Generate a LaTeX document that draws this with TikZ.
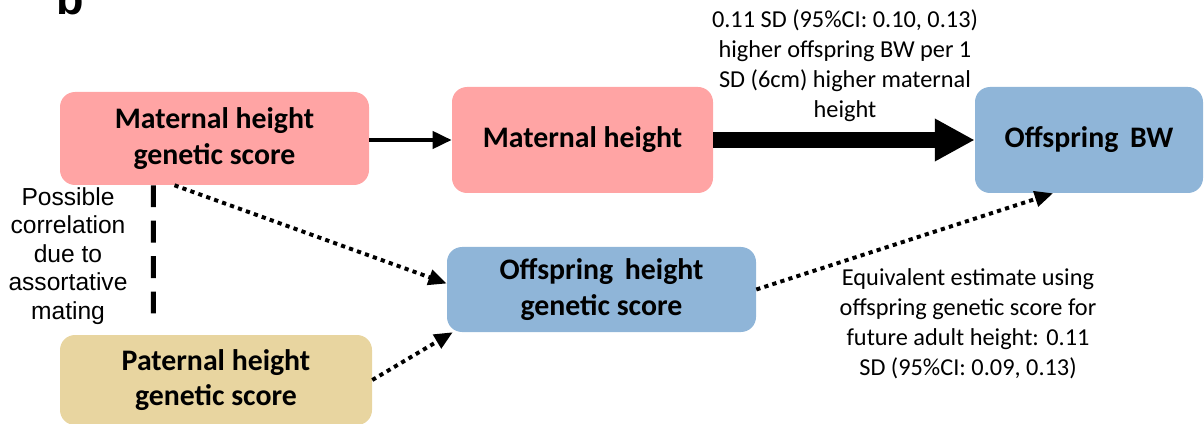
\documentclass[tikz,border=0pt]{standalone}
\usepackage{fontspec}
\setmainfont{Carlito}
\newfontfamily\arialfont{Liberation Sans}
\usetikzlibrary{arrows.meta}
\definecolor{matpink}{RGB}{255,164,164}
\definecolor{offblue}{RGB}{143,181,216}
\definecolor{pattan}{RGB}{232,213,160}
\tikzset{
    gsbox/.style={rounded corners=0.375cm, align=center, inner sep=0pt,
        font=\bfseries\fontsize{21.2}{25}\selectfont},
    note/.style={align=center, font=\fontsize{17.3}{21.3}\selectfont},
    dotarrow/.style={line width=2.8pt, dash pattern=on 3pt off 3pt,
        -{Triangle[length=13pt, width=11pt]}},
}
\begin{document}
\begin{tikzpicture}
        \useasboundingbox (0, 0) rectangle (30.1, -10.6);
        \node[anchor=base, font=\arialfont\bfseries\fontsize{32}{38}\selectfont] (lbl) at (1.76, -0.375) {b};
        % boxes
        \node[gsbox, fill=matpink, minimum width=7.725cm, minimum height=2.325cm] (mgs) at (5.3625, -3.4625) {Maternal height\\genetic score};
        \node[gsbox, fill=matpink, minimum width=6.525cm, minimum height=2.65cm] (mh) at (14.5625, -3.5) {Maternal height};
        \node[gsbox, fill=offblue, minimum width=5.7cm, minimum height=2.65cm] (bw) at (27.225, -3.5) {Offspring\, BW};
        \node[gsbox, fill=offblue, minimum width=7.725cm, minimum height=2.125cm] (ohgs) at (15.0375, -7.2375) {Offspring\, height\\genetic score};
        \node[gsbox, fill=pattan, minimum width=7.8cm, minimum height=2.25cm] (pgs) at (5.4, -9.5) {Paternal height\\genetic score};
        % notes
        \node[align=center, font=\arialfont\fontsize{17.5}{20.3}\selectfont] (mating) at (1.7, -6.4) {Possible\\correlation\\due to\\assortative\\mating};
        \node[note] (top) at (21.125, -1.65) {0.11 SD (95\%CI: 0.10, 0.13)\\higher offspring BW per 1\\SD (6cm) higher maternal\\height};
        \node[note] (bottom) at (24.2, -8.09) {Equivalent estimate using\\offspring genetic score for\\future adult height: 0.11\\SD (95\%CI: 0.09, 0.13)};
        % connectors
        \draw[line width=3pt, -{Triangle[length=13.5pt, width=12pt]}] (mgs.east |- mh.west) -- (mh.west);
        \draw[line width=10.7pt, -{Triangle[length=28.4pt, width=28.4pt]}] (mh.east) -- (bw.west);
        \draw[line width=3.6pt, dash pattern=on 15.6pt off 9.6pt] ([xshift=2.34cm]mgs.south west) -- ([xshift=2.34cm, yshift=0.42cm]pgs.north west);
        \draw[dotarrow] ([xshift=-1cm]mgs.south) -- ([yshift=0.15cm]ohgs.west);
        \draw[dotarrow] (pgs.east) -- ([xshift=0.15cm]ohgs.south west);
        \draw[dotarrow] (ohgs.east) -- ([xshift=-0.9cm]bw.south);
\end{tikzpicture}
\end{document}
